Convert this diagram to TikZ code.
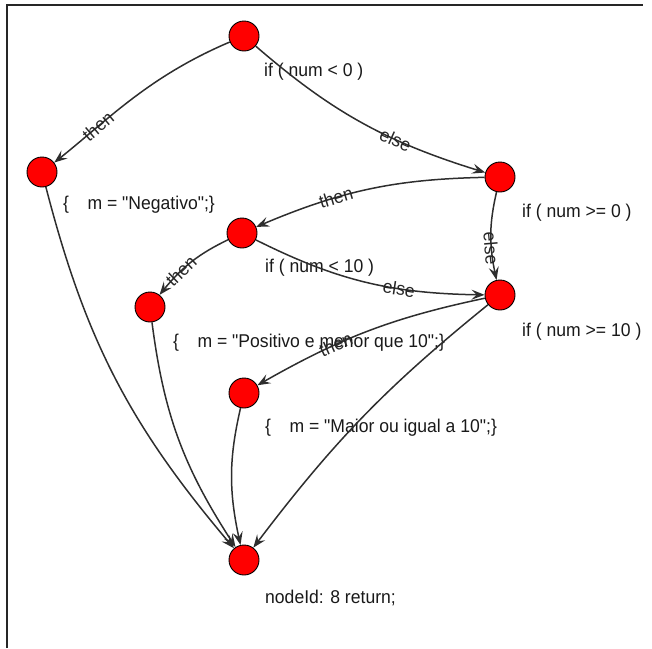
\documentclass[tikz,border=0pt]{standalone}
\usepackage{fontspec}
\newfontfamily\lfont{Liberation Sans}[FakeStretch=0.95]
\usetikzlibrary{arrows.meta,bending}
\definecolor{edgegray}{HTML}{2E2E2E}
\definecolor{vred}{HTML}{FF0000}
\begin{document}
\begin{tikzpicture}[x=1pt,y=-1pt,
  vertex/.style={circle,draw=black,fill=vred,line width=0.9pt,minimum size=30pt,inner sep=0pt},
  lbl/.style={anchor=west,inner sep=0pt,font=\lfont\fontsize{18.5}{21}\selectfont,text=black!90},
  edge/.style={draw=edgegray,line width=1.5pt,-{Stealth[length=13pt,width=10pt,inset=5pt]}},
  elbl/.style={sloped,pos=0.65,inner sep=0pt,font=\lfont\fontsize{18.5}{21}\selectfont,text=black!85},
  frame/.style={draw=black!85,line width=1.5pt}]
\useasboundingbox (0,0) rectangle (652,648);
\draw[frame] (7,648) -- (7,5) -- (643,5);
% vertices
\node[vertex] (n0) at (244,36) {};
\node[vertex] (n1) at (42,172) {};
\node[vertex] (n2) at (500,177) {};
\node[vertex] (n3) at (242,233) {};
\node[vertex] (n4) at (150,307) {};
\node[vertex] (n5) at (500,295) {};
\node[vertex] (n6) at (244,393) {};
\node[vertex] (n7) at (244,560) {};
% vertex labels
\node[lbl] (l0) at (264,72) {if ( num < 0 )};
\node[lbl] (l1) at (63,205) {\{\hspace{1em}m = "Negativo";\}};
\node[lbl] (l2) at (522,213) {if ( num >= 0 )};
\node[lbl] (l3) at (265,268) {if ( num < 10 )};
\node[lbl] (l4) at (173,343) {\{\hspace{1em}m = "Positivo e menor que 10";\}};
\node[lbl] (l5) at (522,332) {if ( num >= 10 )};
\node[lbl] (l6) at (265,428) {\{\hspace{1em}m = "Maior ou igual a 10";\}};
\node[lbl] (l7) at (265,598) {nodeId: 8 return;};
% edges
\draw[edge] (n0) .. controls (145,78) and (104,124) .. node[elbl,pos=0.7]{then} (n1);
\draw[edge] (n0) to[bend right=12] node[elbl]{else} (n2);
\draw[edge] (n1) to[bend right=13] (n7);
\draw[edge] (n2) to[bend right=11] node[elbl]{then} (n3);
\draw[edge] (n2) to[bend right=13] node[elbl]{else} (n5);
\draw[edge] (n3) to[bend right=13] node[elbl]{then} (n4);
\draw[edge] (n3) to[bend right=13] node[elbl]{else} (n5);
\draw[edge] (n4) to[bend right=13] (n7);
\draw[edge] (n5) to[bend right=9] node[elbl]{then} (n6);
\draw[edge] (n5) to[bend right=7] (n7);
\draw[edge] (n6) to[bend right=13] (n7);
\end{tikzpicture}
\end{document}
